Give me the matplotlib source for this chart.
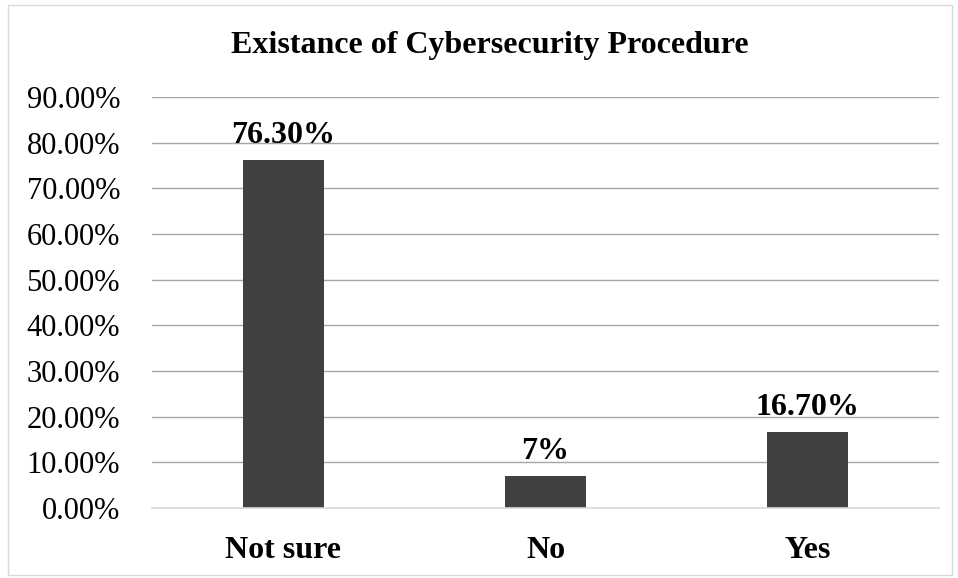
import matplotlib.pyplot as plt
from matplotlib.patches import Rectangle
from matplotlib.ticker import FuncFormatter

categories = ["Not sure", "No", "Yes"]
values = [76.3, 7, 16.7]
value_labels = ["76.30%", "7%", "16.70%"]

plt.rcParams['font.family'] = ['Liberation Serif', 'DejaVu Serif']

fig = plt.figure(figsize=(9.58, 5.78), dpi=100)
ax = fig.add_axes([152/958, 1 - 508/578, (939 - 152)/958, (508 - 97)/578])

x = range(len(categories))
bars = ax.bar(x, values, width=0.31, color="#404040", zorder=3)

for b, lab in zip(bars, value_labels):
    ax.annotate(lab, (b.get_x() + b.get_width()/2, b.get_height()),
                xytext=(0, 7), textcoords="offset points",
                ha="center", va="bottom", fontsize=23, fontweight="bold")

ax.set_xlim(-0.5, 2.5)
ax.set_ylim(0, 90)
ax.set_yticks(range(0, 91, 10))
ax.yaxis.set_major_formatter(FuncFormatter(lambda v, p: f"{v:.2f}%"))
ax.set_xticks(list(x))
ax.set_xticklabels(categories, fontsize=23, fontweight="bold")
ax.tick_params(axis="y", length=0, labelsize=22, pad=23)
ax.tick_params(axis="x", length=0, pad=20)
ax.grid(axis="y", color="#a6a6a6", linewidth=1, zorder=0)
for s in ["top", "right", "left"]:
    ax.spines[s].set_visible(False)
ax.spines["bottom"].set_color("#d9d9d9")
ax.spines["bottom"].set_linewidth(1.2)
ax.spines["bottom"].set_zorder(4)

fig.text(490/958, 1 - 45/578, "Existance of Cybersecurity Procedure",
         ha="center", va="center", fontsize=23, fontweight="bold")

fig.patches.append(Rectangle((8/958, 3/578), 944/958, 570/578, transform=fig.transFigure,
                             fill=False, edgecolor="#d9d9d9", linewidth=1))

fig.savefig("out.png", dpi=100)
